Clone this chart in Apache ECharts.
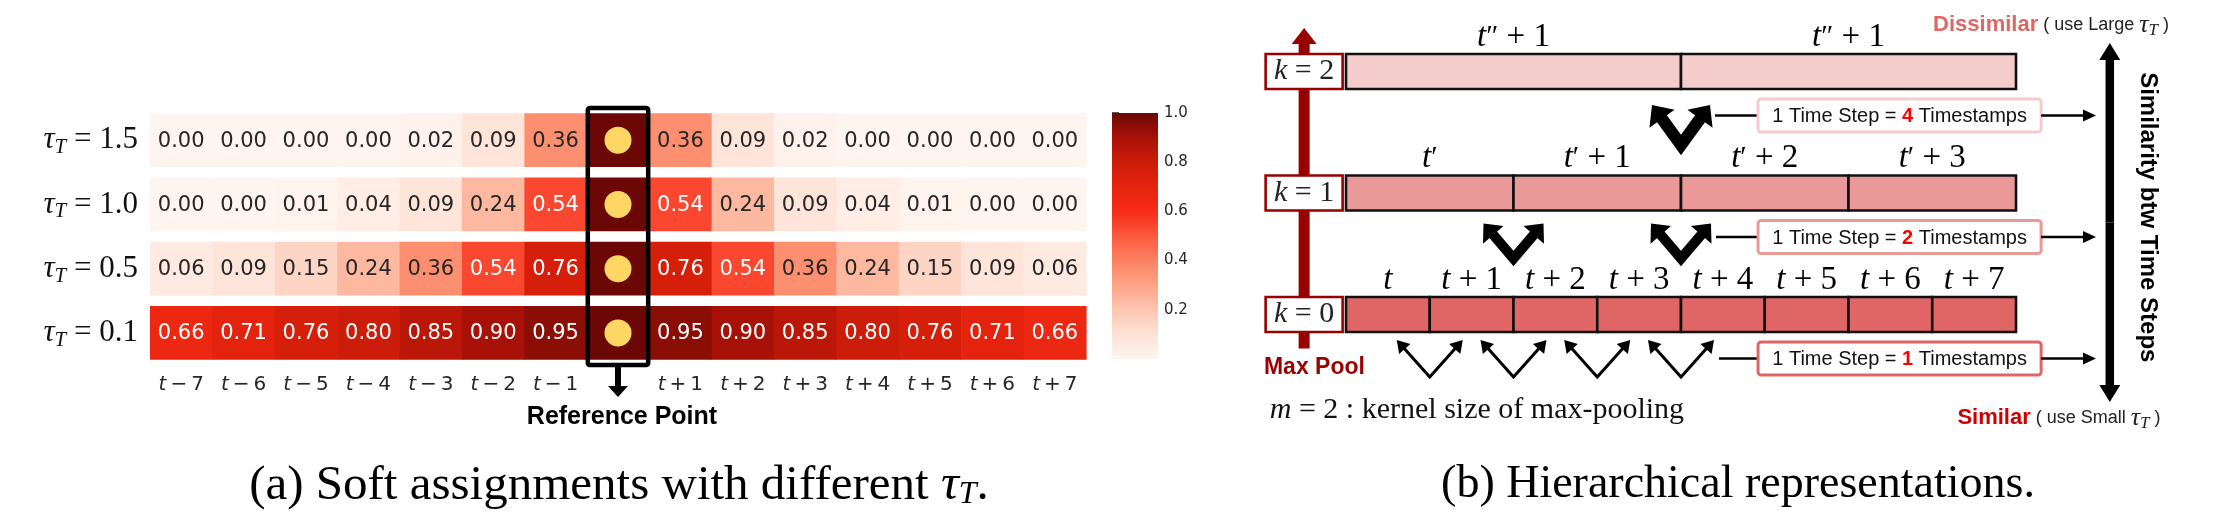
<!DOCTYPE html>
<html><head><meta charset="utf-8">
<script src="https://cdn.jsdelivr.net/npm/echarts/dist/echarts.min.js"></script>
<style>html,body{margin:0;padding:0;background:#fff}#c{width:2238px;height:523px}</style>
</head><body><div id="c"></div>
<script>
// ---------------- data ----------------
const offsetLabels = ['t−7','t−6','t−5','t−4','t−3','t−2','t−1','','t+1','t+2','t+3','t+4','t+5','t+6','t+7'];
const tauValues = ['1.5','1.0','0.5','0.1'];
const assignTau15 = [0.00,0.00,0.00,0.00,0.02,0.09,0.36,1.00,0.36,0.09,0.02,0.00,0.00,0.00,0.00];
const assignTau10 = [0.00,0.00,0.01,0.04,0.09,0.24,0.54,1.00,0.54,0.24,0.09,0.04,0.01,0.00,0.00];
const assignTau05 = [0.06,0.09,0.15,0.24,0.36,0.54,0.76,1.00,0.76,0.54,0.36,0.24,0.15,0.09,0.06];
const assignTau01 = [0.66,0.71,0.76,0.80,0.85,0.90,0.95,1.00,0.95,0.90,0.85,0.80,0.76,0.71,0.66];
const colorbarTicks = [0.2,0.4,0.6,0.8,1.0];
const refIndex = offsetLabels.indexOf('');

const levelK = [0,1,2];
const stepTimestamps = [1,2,4];
const k0Labels = ['t','t + 1','t + 2','t + 3','t + 4','t + 5','t + 6','t + 7'];
const k1Labels = ["t'","t' + 1","t' + 2","t' + 3"];
const k2Labels = ["t'' + 1","t'' + 1"];
const poolArrowsK0 = [1,2,3,4];
const poolArrowsK1 = [2,4];
const poolArrowsK2 = [4];

// ---------------- styles ----------------
const cmap = ['#fff5f0','#fee2d6','#fdc6b1','#fca487','#fc8161','#fb5a3e','#f62c19','#e6240d','#cc1c0a','#a81107','#6b0805'];
const levelFill = ['#e06666','#ea9999','#f4cccc'];
const serif = 'Liberation Serif';
const sans = 'Liberation Sans';

const rows = [assignTau15, assignTau10, assignTau05, assignTau01];
const heatData = [];
rows.forEach((r, ri) => r.forEach((v, ci) => heatData.push([ci, ri, v])));

const segLabels = [k0Labels, k1Labels, k2Labels];
const segs = [];
levelK.forEach(k => segLabels[k].forEach((lab, j) => segs.push({x0: j*stepTimestamps[k], x1: (j+1)*stepTimestamps[k], k, lab})));
const poolArrows = [poolArrowsK0, poolArrowsK1, poolArrowsK2];
const arrowData = [];
levelK.forEach(k => poolArrows[k].forEach(x => arrowData.push([x, k])));

function tex(s){
  const m = s.match(/^t('*)(.*)$/);
  const pr = m[1].length === 2 ? '″' : (m[1].length === 1 ? '′' : '');
  return '{i|t}' + (pr ? '{p|' + pr + '}' : '') + (m[2] ? '{r|' + m[2] + '}' : '');
}
const texRich = {
  i: {fontFamily: serif, fontStyle: 'italic', fontSize: 33, fill: '#000', color:'#000'},
  p: {fontFamily: serif, fontSize: 29, fill: '#000', color:'#000'},
  r: {fontFamily: serif, fontSize: 33, fill: '#000', color:'#000'}
};

function arrow(x1,y1,x2,y2,lw,hl,hw,color){
  const dx=x2-x1, dy=y2-y1, L=Math.hypot(dx,dy), ux=dx/L, uy=dy/L;
  const bx=x2-ux*hl, by=y2-uy*hl;
  return [
    {type:'line', shape:{x1:x1,y1:y1,x2:bx+ux*2,y2:by+uy*2}, style:{stroke:color,lineWidth:lw}},
    {type:'polygon', shape:{points:[[x2,y2],[bx-uy*hw/2,by+ux*hw/2],[bx+uy*hw/2,by-ux*hw/2]]}, style:{fill:color}}
  ];
}

const chart = echarts.init(document.getElementById('c'), null, {renderer:'canvas'});

const option = {
  backgroundColor: '#fff',
  animation: false,
  title: [
    {text: '(a) Soft assignments with different {t|τ}{s|T}.', left: 614, top: 456, textAlign: 'center',
     textStyle: {fontFamily: serif, fontSize: 49, fontWeight: 'normal', color: '#000',
       rich: {t: {fontFamily: serif, fontStyle: 'italic', fontSize: 50, color:'#000'},
              s: {fontFamily: serif, fontStyle: 'italic', fontSize: 32, color:'#000', verticalAlign:'bottom'}}}},
    {text: '(b) Hierarchical representations.', left: 1733, top: 457, textAlign: 'center',
     textStyle: {fontFamily: serif, fontSize: 46, fontWeight: 'normal', color: '#000'}}
  ],
  grid: [
    {left: 150, right: 1152, top: 108, bottom: 158},
    {left: 1112, right: 1080, top: 113, bottom: 164},
    {left: 1346, right: 222, top: 10.75, bottom: 87}
  ],
  xAxis: [
    {type: 'category', gridIndex: 0, data: offsetLabels, axisLine: {show: false}, axisTick: {show: false},
     axisLabel: {interval: 0, margin: 10, formatter: v => v ? '{i|t}{r|\u2009' + v.slice(1,2) + '\u2009' + v.slice(2) + '}' : '',
       rich: {i: {fontFamily: 'DejaVu Sans', fontStyle: 'italic', fontSize: 20, color: '#262626'},
              r: {fontFamily: 'DejaVu Sans', fontSize: 20, color: '#262626'}}}},
    {type: 'value', gridIndex: 1, min: 0, max: 1, show: false},
    {type: 'value', gridIndex: 2, min: 0, max: 8, show: false}
  ],
  yAxis: [
    {type: 'category', gridIndex: 0, data: tauValues, inverse: true, axisLine: {show: false}, axisTick: {show: false},
     axisLabel: {margin: 12, formatter: v => '{i|τ}{s|T}{r| = ' + v + '}',
       rich: {i: {fontFamily: serif, fontStyle: 'italic', fontSize: 31, color: '#111', lineHeight: 36},
              s: {fontFamily: serif, fontStyle: 'italic', fontSize: 21, color: '#111', lineHeight: 22, verticalAlign: 'bottom'},
              r: {fontFamily: serif, fontSize: 31, color: '#111', lineHeight: 36}}}},
    {type: 'value', gridIndex: 1, min: 0, max: 1, interval: 0.2, position: 'right',
     axisLine: {show: false}, splitLine: {show: false},
     axisTick: {show: true, length: 7, lineStyle: {color: '#262626', width: 1.5},
       customValues: colorbarTicks},
     axisLabel: {margin: 6, fontFamily: 'DejaVu Sans', fontSize: 15, color: '#262626',
       customValues: colorbarTicks, formatter: v => v === 0 ? '' : v.toFixed(1)}},
    {type: 'value', gridIndex: 2, min: -1, max: 2.5, show: false}
  ],
  visualMap: {type: 'continuous', min: 0, max: 1, dimension: 2, seriesIndex: 0, show: false, inRange: {color: cmap}},
  series: [
    // heatmap cells
    {type: 'custom', xAxisIndex: 0, yAxisIndex: 0, data: heatData,
     renderItem: (params, api) => {
       const col = api.value(0), row = api.value(1), v = api.value(2);
       const c = api.coord([col, row]); const s = api.size([1, 1]);
       const h = s[1] * 0.84;
       const ch = [{type: 'rect', shape: {x: c[0] - s[0]/2, y: c[1] - h/2, width: s[0] + 0.6, height: h}, style: {fill: api.visual('color')}}];
       if (col !== refIndex) ch.push({type: 'text', style: {text: v.toFixed(2), x: c[0], y: c[1] + 1, align: 'center', verticalAlign: 'middle',
         fontFamily: 'DejaVu Sans', fontSize: 21, fill: v > 0.5 ? '#ffffff' : '#262626'}});
       return {type: 'group', children: ch};
     }},
    // reference markers
    {type: 'scatter', xAxisIndex: 0, yAxisIndex: 0, symbol: 'circle', symbolSize: 27, z: 5,
     itemStyle: {color: '#fdd663', opacity: 1}, data: tauValues.map((t, i) => [refIndex, i])},
    // reference box + arrow
    {type: 'custom', xAxisIndex: 0, yAxisIndex: 0, z: 6, data: [[refIndex, 0]],
     renderItem: (params, api) => {
       const col = api.value(0);
       const s = api.size([1, 1]);
       const top = api.coord([col, 0])[1] - s[1]/2, bot = api.coord([col, tauValues.length - 1])[1] + s[1]/2;
       const cx = api.coord([col, 0])[0];
       const ch = [{type: 'rect', shape: {x: cx - s[0]/2 + 1, y: top, width: s[0] - 2, height: bot - top, r: 2}, style: {fill: 'none', stroke: '#000', lineWidth: 4.5}}];
       ch.push(...arrow(cx, bot, cx, bot + 32, 6, 11, 20, '#000'));
       ch.push({type: 'text', style: {text: 'Reference Point', x: cx + 4, y: bot + 52, align: 'center', verticalAlign: 'middle',
         fontFamily: sans, fontWeight: 'bold', fontSize: 25, fill: '#000'}});
       return {type: 'group', children: ch};
     }},
    // colorbar
    {type: 'custom', xAxisIndex: 1, yAxisIndex: 1, data: [[0, 1]],
     renderItem: (params, api) => {
       const p0 = api.coord([0, 1]), p1 = api.coord([1, 0]);
       const stops = cmap.map((c, i) => ({offset: 1 - i/(cmap.length - 1), color: c})).reverse();
       return {type: 'rect', shape: {x: p0[0], y: p0[1], width: p1[0] - p0[0], height: p1[1] - p0[1]},
         style: {fill: new echarts.graphic.LinearGradient(0, 0, 0, 1, stops)}};
     }},
    // right panel annotations (max pool arrow, big arrow, texts)
    {type: 'custom', xAxisIndex: 2, yAxisIndex: 2, data: [[0, 0]],
     renderItem: (params, api) => {
       const P = (x, y) => api.coord([x, y]);
       const ch = [];
       const ax = P(-0.5, 0)[0];
       const yb = P(0, 0)[1] + 34, yt = P(0, 2)[1] - 43.5;
       ch.push(...arrow(ax, yb, ax, yt, 11, 16, 25, '#990000'));
       ch.push({type: 'text', style: {text: 'Max Pool', x: P(-0.98, 0)[0], y: P(0, -0.441)[1], align: 'left', verticalAlign: 'middle',
         fontFamily: sans, fontWeight: 'bold', fontSize: 23, fill: '#990000'}});
       ch.push({type: 'text', style: {text: '{i|m}{r| = 2 : kernel size of max-pooling}', x: P(-0.91, 0)[0], y: P(0, -0.786)[1], align: 'left', verticalAlign: 'middle',
         rich: {i: {fontFamily: serif, fontStyle: 'italic', fontSize: 30, fill: '#111'}, r: {fontFamily: serif, fontSize: 30, fill: '#111'}}}});
       // big double arrow
       const bx = P(9.12, 0)[0], bt = P(0, 2.235)[1], bbm = P(0, -0.72)[1];
       const my = (bt + bbm) / 2;
       ch.push(...arrow(bx, my, bx, bt, 8.5, 17, 21, '#000'));
       ch.push(...arrow(bx, my, bx, bbm, 8.5, 17, 21, '#000'));
       ch.push({type: 'text', x: P(9.57, 0)[0], y: P(0, 0.80)[1], rotation: -Math.PI/2,
         style: {text: 'Similarity btw Time Steps', x: 0, y: 0, align: 'center', verticalAlign: 'middle',
           fontFamily: sans, fontWeight: 'bold', fontSize: 24, fill: '#000'}});
       const tauRich = {t: {fontFamily: serif, fontStyle: 'italic', fontSize: 26, fill: '#222'},
                        s: {fontFamily: serif, fontStyle: 'italic', fontSize: 17, fill: '#222', verticalAlign: 'bottom', lineHeight: 18},
                        r: {fontFamily: sans, fontSize: 18, fill: '#222', lineHeight: 28}};
       ch.push({type: 'text', style: {text: '{d|Dissimilar}{r| ( use Large }{t|τ}{s|T}{r| )}', x: P(7.01, 0)[0], y: P(0, 2.383)[1], align: 'left', verticalAlign: 'middle',
         rich: Object.assign({d: {fontFamily: sans, fontWeight: 'bold', fontSize: 22, fill: '#e06666', lineHeight: 28}}, tauRich)}});
       ch.push({type: 'text', style: {text: '{d|Similar}{r| ( use Small }{t|τ}{s|T}{r| )}', x: P(7.30, 0)[0], y: P(0, -0.852)[1], align: 'left', verticalAlign: 'middle',
         rich: Object.assign({d: {fontFamily: sans, fontWeight: 'bold', fontSize: 22, fill: '#cc0000', lineHeight: 28}}, tauRich)}});
       return {type: 'group', children: ch};
     }},
    // segments
    {type: 'custom', xAxisIndex: 2, yAxisIndex: 2, data: segs.map((s, i) => [s.x0, s.x1, s.k, i]),
     renderItem: (params, api) => {
       const x0 = api.value(0), x1 = api.value(1), k = api.value(2), idx = api.value(3);
       const a = api.coord([x0, k]), b = api.coord([x1, k]);
       const hh = 17.5;
       return {type: 'group', children: [
         {type: 'rect', shape: {x: a[0], y: a[1] - hh, width: b[0] - a[0], height: 2*hh}, style: {fill: levelFill[k], stroke: '#111', lineWidth: 2.6}},
         {type: 'text', style: {text: tex(segs[idx].lab), x: (a[0] + b[0]) / 2, y: a[1] - hh - 17, align: 'center', verticalAlign: 'middle', rich: texRich}}
       ]};
     }},
    // pooling V arrows
    {type: 'custom', xAxisIndex: 2, yAxisIndex: 2, data: arrowData,
     renderItem: (params, api) => {
       const x = api.value(0), k = api.value(1);
       const c = api.coord([x, k]);
       const cfg = [{dx: 33, t: 25.5, b: 62.5, lw: 3, hl: 12, hw: 15},
                    {dx: 30, t: 30.5, b: 65.5, lw: 10, hl: 15, hw: 27},
                    {dx: 29, t: 33.5, b: 73.5, lw: 12, hl: 17, hw: 31}][k];
       const vx = c[0], vy = c[1] + cfg.b, ty = c[1] + cfg.t;
       const ch = [];
       const mk = (sx) => {
         const tx = vx + sx*cfg.dx;
         const dx = tx - vx, dy = ty - vy, L = Math.hypot(dx, dy), ux = dx/L, uy = dy/L;
         const bx = tx - ux*cfg.hl, by = ty - uy*cfg.hl;
         ch.push({type: 'polygon', shape: {points: [[tx, ty], [bx - uy*cfg.hw/2, by + ux*cfg.hw/2], [bx + uy*cfg.hw/2, by - ux*cfg.hw/2]]}, style: {fill: '#000'}});
         return [bx + ux*2, by + uy*2];
       };
       const l = mk(-1), r = mk(1);
       ch.unshift({type: 'polyline', shape: {points: [l, [vx, vy], r]}, style: {stroke: '#000', lineWidth: cfg.lw, lineJoin: 'miter', fill: 'none'}});
       return {type: 'group', children: ch};
     }},
    // level boxes and time-step labels
    {type: 'custom', xAxisIndex: 2, yAxisIndex: 2, data: levelK.map(k => [k, stepTimestamps[k], Math.max(...poolArrows[k])]),
     renderItem: (params, api) => {
       const k = api.value(0), n = api.value(1), lastX = api.value(2);
       const c = api.coord([-0.5, k]);
       const ch = [];
       ch.push({type: 'rect', shape: {x: c[0] - 38.5, y: c[1] - 17.5, width: 77, height: 35}, style: {fill: '#fff', stroke: '#990000', lineWidth: 2.6}});
       ch.push({type: 'text', style: {text: '{i|k}{r| = ' + k + '}', x: c[0], y: c[1], align: 'center', verticalAlign: 'middle',
         rich: {i: {fontFamily: serif, fontStyle: 'italic', fontSize: 30, fill: '#222'}, r: {fontFamily: serif, fontSize: 30, fill: '#222'}}}});
       const by = c[1] + 44;
       const bl = api.coord([4.92, k])[0], br = api.coord([8.30, k])[0];
       const cfgDx = [33, 30, 29][k];
       const lx = api.coord([lastX, k])[0] + cfgDx + 5;
       ch.push({type: 'line', shape: {x1: lx, y1: by, x2: bl, y2: by}, style: {stroke: '#000', lineWidth: 2.5}});
       ch.push({type: 'rect', shape: {x: bl, y: by - 16.5, width: br - bl, height: 33, r: 3}, style: {fill: '#fff', stroke: levelFill[k], lineWidth: 3}});
       ch.push({type: 'text', style: {text: '{a|1 Time Step = }{b|' + n + '}{a| Timestamps}', x: (bl + br) / 2, y: by + 1, align: 'center', verticalAlign: 'middle',
         rich: {a: {fontFamily: sans, fontSize: 20, fill: '#111'}, b: {fontFamily: sans, fontSize: 20, fontWeight: 'bold', fill: '#ff0000'}}}});
       ch.push(...arrow(br, by, api.coord([8.955, k])[0], by, 2.5, 13, 12, '#000'));
       return {type: 'group', children: ch};
     }}
  ]
};
chart.setOption(option);
</script>
</body></html>
